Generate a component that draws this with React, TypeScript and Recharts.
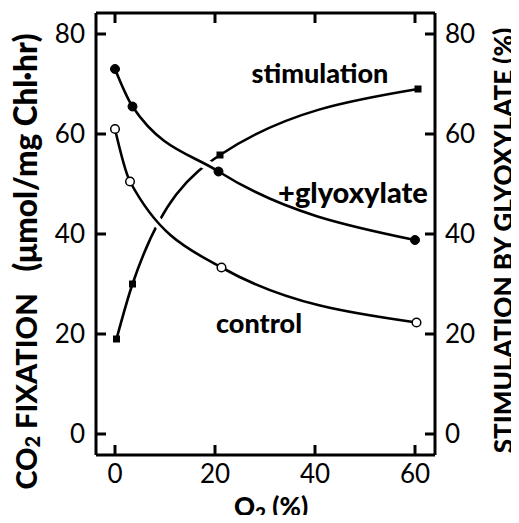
import React from "react";
import { ComposedChart, Line, XAxis, YAxis } from "recharts";

// O2 (%) values and CO2 fixation / stimulation values
const glyoxylateX = [0, 3.5, 20.7, 60];
const glyoxylateY = [73, 65.5, 52.5, 38.8];
const controlX = [0, 3, 21.3, 60.3];
const controlY = [61, 50.5, 33.3, 22.3];
const stimulationX = [0.3, 3.5, 21, 60.6];
const stimulationY = [19, 30, 55.8, 69];
const xTicks = [0, 20, 40, 60];
const yTicks = [0, 20, 40, 60, 80];

const toRows = (xs: number[], ys: number[]) => xs.map((x, i) => ({ x, y: ys[i] }));
const glyoxylateData = toRows(glyoxylateX, glyoxylateY);
const controlData = toRows(controlX, controlY);
const stimulationData = toRows(stimulationX, stimulationY);

const FONT = "Lato, 'DejaVu Sans', sans-serif";
const W = 511;
const H = 507;
const MARGIN = { top: 4, right: 24, left: 28, bottom: 20 };
const YAXIS_W = 60;
const XAXIS_H = 40;
const TOP_H = 1;
const PLOT_LEFT = MARGIN.left + YAXIS_W;
const PLOT_RIGHT = W - MARGIN.right - YAXIS_W;
const PLOT_TOP = MARGIN.top + TOP_H;
const PLOT_BOTTOM = H - MARGIN.bottom - XAXIS_H;

const TICK_LEN = 10;
const TICK_W = 3;
const TICK_FONT = 26;
const INK = "#000";

function LeftTick(props: any) {
  const { y, payload } = props;
  return (
    <g>
      <line x1={PLOT_LEFT} x2={PLOT_LEFT + TICK_LEN} y1={y} y2={y} stroke={INK} strokeWidth={TICK_W} />
      <text x={PLOT_LEFT - 11} y={y} dy="0.36em" textAnchor="end" fontSize={TICK_FONT} fontFamily={FONT} fill={INK}>
        {payload.value}
      </text>
    </g>
  );
}

function RightTick(props: any) {
  const { y, payload } = props;
  return (
    <g>
      <line x1={PLOT_RIGHT} x2={PLOT_RIGHT - TICK_LEN} y1={y} y2={y} stroke={INK} strokeWidth={TICK_W} />
      <text x={PLOT_RIGHT + 10} y={y} dy="0.36em" textAnchor="start" fontSize={TICK_FONT} fontFamily={FONT} fill={INK}>
        {payload.value}
      </text>
    </g>
  );
}

function BottomTick(props: any) {
  const { x, payload } = props;
  return (
    <g>
      <line x1={x} x2={x} y1={PLOT_BOTTOM} y2={PLOT_BOTTOM - TICK_LEN} stroke={INK} strokeWidth={TICK_W} />
      <text x={x} y={PLOT_BOTTOM + 28} textAnchor="middle" fontSize={TICK_FONT} fontFamily={FONT} fill={INK}>
        {payload.value}
      </text>
    </g>
  );
}

function TopTick(props: any) {
  const { x } = props;
  return <line x1={x} x2={x} y1={PLOT_TOP} y2={PLOT_TOP + TICK_LEN} stroke={INK} strokeWidth={TICK_W} />;
}

const Square = (props: any) => {
  const { cx, cy, index } = props;
  if (cx == null || cy == null) return <g key={`sq-${index}`} />;
  return <rect key={`sq-${index}`} x={cx - 3.5} y={cy - 3.5} width={7} height={7} fill="#000" />;
};

export default function App() {
  return (
    <div style={{ position: "relative", width: W, height: H }}>
      <ComposedChart width={W} height={H} margin={MARGIN}>
        <XAxis
          xAxisId="b"
          dataKey="x"
          type="number"
          domain={[-3.8, 64]}
          ticks={xTicks}
          allowDataOverflow
          orientation="bottom"
          height={XAXIS_H}
          tickLine={false}
          tick={BottomTick}
          stroke="#000"
          strokeWidth={3}
        />
        <XAxis
          xAxisId="t"
          dataKey="x"
          type="number"
          domain={[-3.8, 64]}
          ticks={xTicks}
          allowDataOverflow
          orientation="top"
          height={TOP_H}
          tickLine={false}
          tick={TopTick}
          stroke="#000"
          strokeWidth={3}
        />
        <YAxis
          yAxisId="l"
          type="number"
          domain={[-4.2, 84.2]}
          ticks={yTicks}
          allowDataOverflow
          width={YAXIS_W}
          tickLine={false}
          tick={LeftTick}
          stroke="#000"
          strokeWidth={3}
        />
        <YAxis
          yAxisId="r"
          orientation="right"
          type="number"
          domain={[-4.2, 84.2]}
          ticks={yTicks}
          allowDataOverflow
          width={YAXIS_W}
          tickLine={false}
          tick={RightTick}
          stroke="#000"
          strokeWidth={3}
        />
        <Line
          xAxisId="b"
          yAxisId="l"
          data={stimulationData}
          dataKey="y"
          type="monotone"
          stroke="#000"
          strokeWidth={2.6}
          dot={Square}
          activeDot={false}
          isAnimationActive={false}
        />
        <Line
          xAxisId="b"
          yAxisId="l"
          data={controlData}
          dataKey="y"
          type="monotone"
          stroke="#fff"
          strokeWidth={10}
          dot={false}
          activeDot={false}
          isAnimationActive={false}
        />
        <Line
          xAxisId="b"
          yAxisId="l"
          data={glyoxylateData}
          dataKey="y"
          type="monotone"
          stroke="#fff"
          strokeWidth={10}
          dot={false}
          activeDot={false}
          isAnimationActive={false}
        />
        <Line
          xAxisId="b"
          yAxisId="l"
          data={controlData}
          dataKey="y"
          type="monotone"
          stroke="#000"
          strokeWidth={2.6}
          dot={{ r: 4.3, fill: "#fff", stroke: "#000", strokeWidth: 1.5 }}
          activeDot={false}
          isAnimationActive={false}
        />
        <Line
          xAxisId="b"
          yAxisId="l"
          data={glyoxylateData}
          dataKey="y"
          type="monotone"
          stroke="#000"
          strokeWidth={2.6}
          dot={{ r: 4.5, fill: "#000", stroke: "#000", strokeWidth: 1 }}
          activeDot={false}
          isAnimationActive={false}
        />
      </ComposedChart>
      <svg
        width={W}
        height={515}
        style={{ position: "absolute", left: 0, top: 0, pointerEvents: "none", overflow: "visible" }}
        fontFamily={FONT}
      >
        <text x={312} y={75} textAnchor="middle" fontSize={27} fontWeight={900}>stimulation</text>
        <text x={345} y={195} textAnchor="middle" fontSize={29} fontWeight={900}>+glyoxylate</text>
        <text x={251} y={325} textAnchor="middle" fontSize={27} fontWeight={900}>control</text>
        <text
          transform="translate(17,383.5) rotate(-90)"
          textAnchor="middle"
          dominantBaseline="central"
          fontSize={29}
          fontWeight={900}
        >
          CO<tspan fontSize={20} dy={7}>2</tspan><tspan dy={-7}> FIXATION</tspan>
        </text>
        <text
          transform="translate(17,144.5) rotate(-90)"
          textAnchor="middle"
          dominantBaseline="central"
          fontSize={31.5}
          fontWeight={900}
        >
          (μmol/mg Chl·hr)
        </text>
        <text
          transform="translate(495,232.5) rotate(-90)"
          textAnchor="middle"
          dominantBaseline="central"
          fontSize={26}
          fontWeight={900}
        >
          STIMULATION BY GLYOXYLATE (%)
        </text>
        <text x={263} y={498} textAnchor="middle" dominantBaseline="central" fontSize={26} fontWeight={900}>
          O<tspan fontSize={19} dy={7}>2</tspan><tspan dy={-7}> (%)</tspan>
        </text>
      </svg>
    </div>
  );
}
